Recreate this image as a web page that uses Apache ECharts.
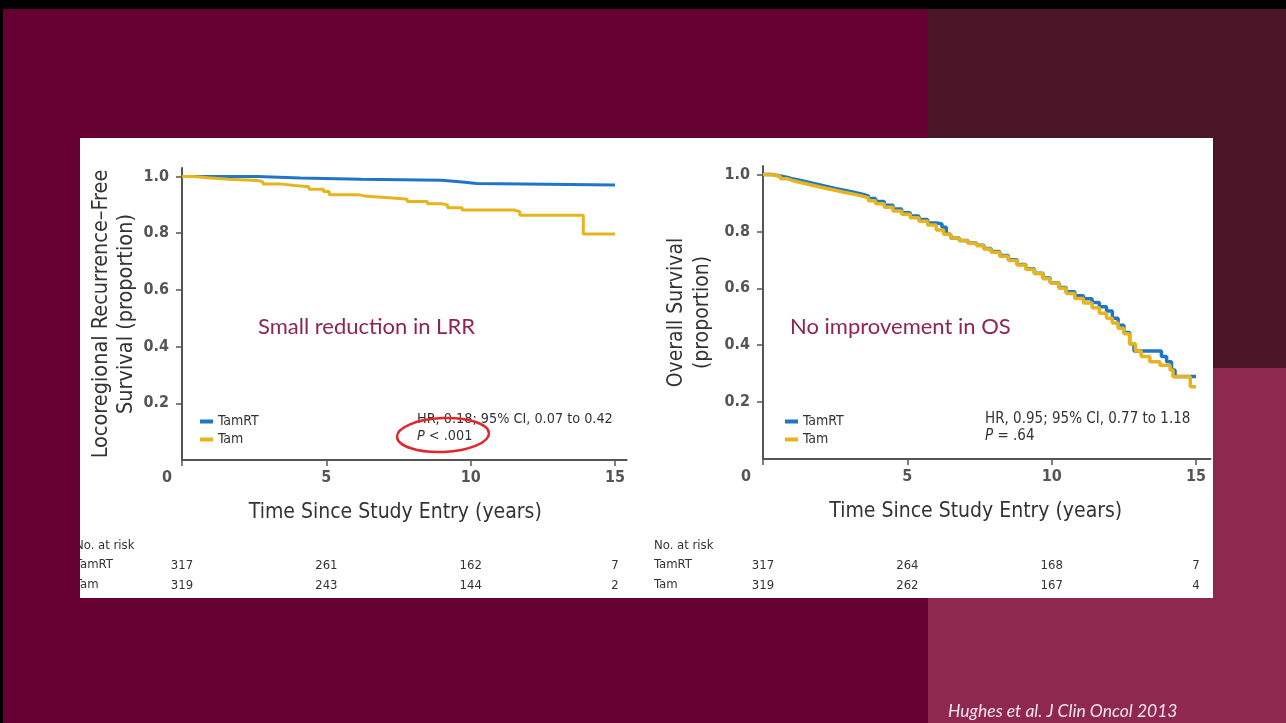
<!DOCTYPE html>
<html>
<head>
<meta charset="utf-8">
<script src="https://cdn.jsdelivr.net/npm/echarts@6/dist/echarts.min.js"></script>
<style>
  html, body { margin: 0; padding: 0; background: #660033; }
  #c { width: 1286px; height: 723px; }
</style>
</head>
<body>
<div id="c"></div>
<script>
// Locoregional recurrence-free survival: step points (years, proportion)
const lrrTamRTTime = [0, 2.6, 4.1, 6.2, 9.0, 9.8, 10.2, 15];
const lrrTamRTSurv = [1.0, 0.995, 0.99, 0.987, 0.98, 0.975, 0.97, 0.97];
const lrrTamTime = [0, 0.4, 1.0, 1.6, 2.6, 2.8, 3.4, 3.9, 4.4, 4.9, 5.1, 6.1, 6.4, 7.3, 7.8, 8.5, 9.0, 9.2, 9.7, 11.5, 11.7, 13.9, 15];
const lrrTamSurv = [1.0, 0.995, 0.99, 0.986, 0.982, 0.974, 0.968, 0.964, 0.955, 0.947, 0.936, 0.93, 0.924, 0.92, 0.912, 0.904, 0.9, 0.89, 0.882, 0.876, 0.863, 0.797, 0.797];

// Overall survival: step points (years, proportion)
const osTamRTTime = [0, 0.3, 0.6, 0.85, 1.05, 1.3, 1.6, 1.9, 2.2, 2.5, 2.8, 3.1, 3.4, 3.65, 3.9, 4.2, 4.5, 4.8, 5.1, 5.4, 5.7, 6.0, 6.2, 6.35, 6.5, 6.8, 7.1, 7.4, 7.65, 7.9, 8.2, 8.5, 8.8, 9.1, 9.4, 9.7, 9.95, 10.25, 10.5, 10.8, 11.1, 11.4, 11.65, 11.9, 12.1, 12.3, 12.5, 12.7, 12.85, 13.8, 13.98, 14.15, 14.27, 15];
const osTamRTSurv = [1.0, 0.995, 0.99, 0.984, 0.979, 0.972, 0.965, 0.958, 0.951, 0.945, 0.939, 0.932, 0.925, 0.916, 0.905, 0.892, 0.879, 0.866, 0.854, 0.842, 0.83, 0.826, 0.815, 0.79, 0.777, 0.768, 0.759, 0.751, 0.74, 0.729, 0.715, 0.7, 0.684, 0.669, 0.653, 0.636, 0.62, 0.603, 0.588, 0.574, 0.563, 0.55, 0.535, 0.52, 0.495, 0.47, 0.445, 0.405, 0.38, 0.36, 0.342, 0.313, 0.29, 0.29];
const osTamTime = [0, 0.3, 0.6, 0.85, 1.05, 1.3, 1.6, 1.9, 2.2, 2.5, 2.8, 3.1, 3.4, 3.65, 3.9, 4.2, 4.5, 4.8, 5.1, 5.4, 5.7, 6.0, 6.25, 6.5, 6.8, 7.1, 7.4, 7.65, 7.9, 8.2, 8.5, 8.8, 9.1, 9.4, 9.7, 9.95, 10.25, 10.5, 10.8, 11.1, 11.4, 11.65, 11.9, 12.1, 12.3, 12.5, 12.7, 12.9, 13.1, 13.4, 13.75, 14.1, 14.2, 14.8, 15];
const osTamSurv = [1.0, 0.993, 0.985, 0.978, 0.972, 0.965, 0.958, 0.951, 0.945, 0.938, 0.932, 0.925, 0.918, 0.908, 0.897, 0.885, 0.872, 0.86, 0.848, 0.836, 0.823, 0.805, 0.79, 0.777, 0.767, 0.758, 0.75, 0.738, 0.727, 0.713, 0.698, 0.682, 0.667, 0.651, 0.634, 0.619, 0.6, 0.582, 0.564, 0.548, 0.532, 0.512, 0.495, 0.478, 0.46, 0.44, 0.405, 0.38, 0.36, 0.342, 0.33, 0.313, 0.289, 0.254, 0.254];

// Axis ticks
const xTicks = [0, 5, 10, 15];
const yTicks = [0.2, 0.4, 0.6, 0.8, 1.0];

// Numbers at risk
const riskTimes = [0, 5, 10, 15];
const lrrRiskTamRT = [317, 261, 162, 7];
const lrrRiskTam = [319, 243, 144, 2];
const osRiskTamRT = [317, 264, 168, 7];
const osRiskTam = [319, 262, 167, 4];

const BLUE = '#1f76c6';
const YELLOW = '#e6b41e';
const NARROW = '"Liberation Sans Narrow", "DejaVu Sans Condensed", "Liberation Sans", sans-serif';
const SANS = 'Lato, "Open Sans", sans-serif';
const AXIS = '#555';
const TXT = '#333';
const TICK = '#555';

const zip = (t, s) => t.map((v, i) => [v, s[i]]);

function xAxisCfg(gridIndex, max, zeroPad, namePad) {
  return {
    type: 'value', gridIndex, min: 0, max,
    axisLine: { show: true, onZero: false, lineStyle: { color: AXIS, width: 2 } },
    axisTick: { show: true, customValues: xTicks, length: 6, lineStyle: { color: AXIS, width: 1.5 } },
    axisLabel: {
      customValues: xTicks, margin: 10, color: TICK, fontSize: 16, fontWeight: 'bold', fontFamily: NARROW,
      formatter: v => (v === 0 ? '{z|0}' : String(v)),
      rich: { z: { padding: [0, zeroPad, 0, 0], fontSize: 16, fontWeight: 'bold', color: TICK, fontFamily: NARROW } }
    },
    splitLine: { show: false },
    name: 'Time Since Study Entry (years)', nameLocation: 'middle', nameGap: 42,
    nameTextStyle: { fontSize: 21, color: TXT, fontFamily: NARROW, padding: namePad }
  };
}

function yAxisCfg(gridIndex, name, nameGap, size, lineHeight) {
  return {
    type: 'value', gridIndex, min: 0, max: 1.03,
    axisLine: { show: true, onZero: false, lineStyle: { color: AXIS, width: 2 } },
    axisTick: { show: true, customValues: yTicks, length: 6, lineStyle: { color: AXIS, width: 1.5 } },
    axisLabel: {
      customValues: yTicks, margin: 13, color: TICK, fontSize: 16, fontWeight: 'bold', fontFamily: NARROW,
      formatter: v => v.toFixed(1)
    },
    splitLine: { show: false },
    name, nameLocation: 'middle', nameGap,
    nameTextStyle: { fontSize: size, lineHeight, color: TXT, fontFamily: NARROW }
  };
}

function curve(name, axisIndex, data, color, width) {
  return {
    type: 'line', name, xAxisIndex: axisIndex, yAxisIndex: axisIndex,
    data, step: 'end', symbol: 'none', showSymbol: false,
    lineStyle: { color, width }, itemStyle: { color }
  };
}

function legendCfg(left) {
  return {
    data: ['TamRT', 'Tam'], orient: 'vertical', left, top: 409,
    icon: 'rect', itemWidth: 13, itemHeight: 4, itemGap: 3,
    textStyle: { fontSize: 14, lineHeight: 15, color: TXT, fontFamily: NARROW },
    selectedMode: false
  };
}

const chart = echarts.init(document.getElementById('c'), null, { renderer: 'canvas' });

chart.setOption({
  animation: false,
  backgroundColor: '#660033',
  grid: [
    { left: 182, top: 168, width: 444.6, height: 292 },
    { left: 763, top: 166, width: 447.5, height: 293 }
  ],
  xAxis: [
    xAxisCfg(0, 15.4, 30, [0, 18, 0, 0]),
    xAxisCfg(1, 15.5, 34, [0, 22, 0, 0])
  ],
  yAxis: [
    yAxisCfg(0, 'Locoregional Recurrence\u2013Free\nSurvival (proportion)', 43, 21.5, 25),
    yAxisCfg(1, 'Overall Survival\n(proportion)', 47, 21, 26)
  ],
  legend: [legendCfg(195), legendCfg(780)],
  series: [
    curve('TamRT', 0, zip(lrrTamRTTime, lrrTamRTSurv), BLUE, 3),
    curve('Tam', 0, zip(lrrTamTime, lrrTamSurv), YELLOW, 3),
    curve('TamRT', 1, zip(osTamRTTime, osTamRTSurv), BLUE, 3.5),
    curve('Tam', 1, zip(osTamTime, osTamSurv), YELLOW, 3.5)
  ]
});

// Slide panels, annotations and the numbers-at-risk table
const els = [
  { type: 'rect', z: -10, shape: { x: 0, y: 0, width: 1286, height: 9 }, style: { fill: '#000' } },
  { type: 'rect', z: -10, shape: { x: 0, y: 0, width: 3, height: 723 }, style: { fill: '#000' } },
  { type: 'rect', z: -10, shape: { x: 928, y: 9, width: 358, height: 359 }, style: { fill: '#4a1526' } },
  { type: 'rect', z: -10, shape: { x: 928, y: 368, width: 358, height: 355 }, style: { fill: '#8f284e' } },
  { type: 'rect', z: -9, shape: { x: 80, y: 138, width: 1133, height: 460 }, style: { fill: '#fff' } },
  { type: 'text', z: 50, left: 258, top: 316, style: { text: 'Small reduction in LRR', fontSize: 22, fontFamily: SANS, fill: '#8e2453' } },
  { type: 'text', z: 50, left: 790, top: 316, style: { text: 'No improvement in OS', fontSize: 22, fontFamily: SANS, fill: '#8e2453' } },
  { type: 'text', z: 50, left: 948, top: 702, style: { text: 'Hughes et al. J Clin Oncol 2013', fontSize: 17.5, fontStyle: 'italic', fontFamily: SANS, fill: '#f3e6ec' } }
];

function statText(x, size, hr, p) {
  const rich = { i: { fontStyle: 'italic', fontSize: size, fontFamily: NARROW, fill: TXT } };
  els.push({ type: 'text', z: 20, left: x, top: 412, style: { text: hr, fontSize: size, fontFamily: NARROW, fill: TXT } });
  els.push({ type: 'text', z: 20, left: x, top: 429, style: { text: p, rich, fontSize: size, fontFamily: NARROW, fill: TXT } });
}
statText(417, 14.3, 'HR, 0.18; 95% CI, 0.07 to 0.42', '{i|P} < .001');
statText(985, 15, 'HR, 0.95; 95% CI, 0.77 to 1.18', '{i|P} = .64');

els.push({
  type: 'ellipse', z: 30, shape: { cx: 443, cy: 435, rx: 46, ry: 17 }, rotation: 0.04, originX: 443, originY: 435,
  style: { fill: 'none', stroke: '#e3262a', lineWidth: 2.5 }
});

function riskTable(axisIndex, labelX, rowA, rowB) {
  const rows = [['No. at risk', null, 547], ['TamRT', rowA, 566], ['Tam', rowB, 586]];
  rows.forEach(([label, vals, y]) => {
    els.push({ type: 'text', z: 20, left: labelX, top: y - 8, style: { text: label, fontSize: 13, fontFamily: NARROW, fill: TXT } });
    if (!vals) return;
    vals.forEach((n, i) => {
      const px = chart.convertToPixel({ xAxisIndex: axisIndex }, riskTimes[i]);
      els.push({ type: 'text', z: 20, x: px, y, style: { text: String(n), fontSize: 13, fontFamily: NARROW, fill: TXT, align: 'center', verticalAlign: 'middle' } });
    });
  });
}
riskTable(0, 75, lrrRiskTamRT, lrrRiskTam);
riskTable(1, 654, osRiskTamRT, osRiskTam);

// Left margin of the slide covers the start of the first table's row labels
els.push({ type: 'rect', z: 40, shape: { x: 3, y: 138, width: 77, height: 460 }, style: { fill: '#660033' } });

chart.setOption({ graphic: { elements: els } });
</script>
</body>
</html>
